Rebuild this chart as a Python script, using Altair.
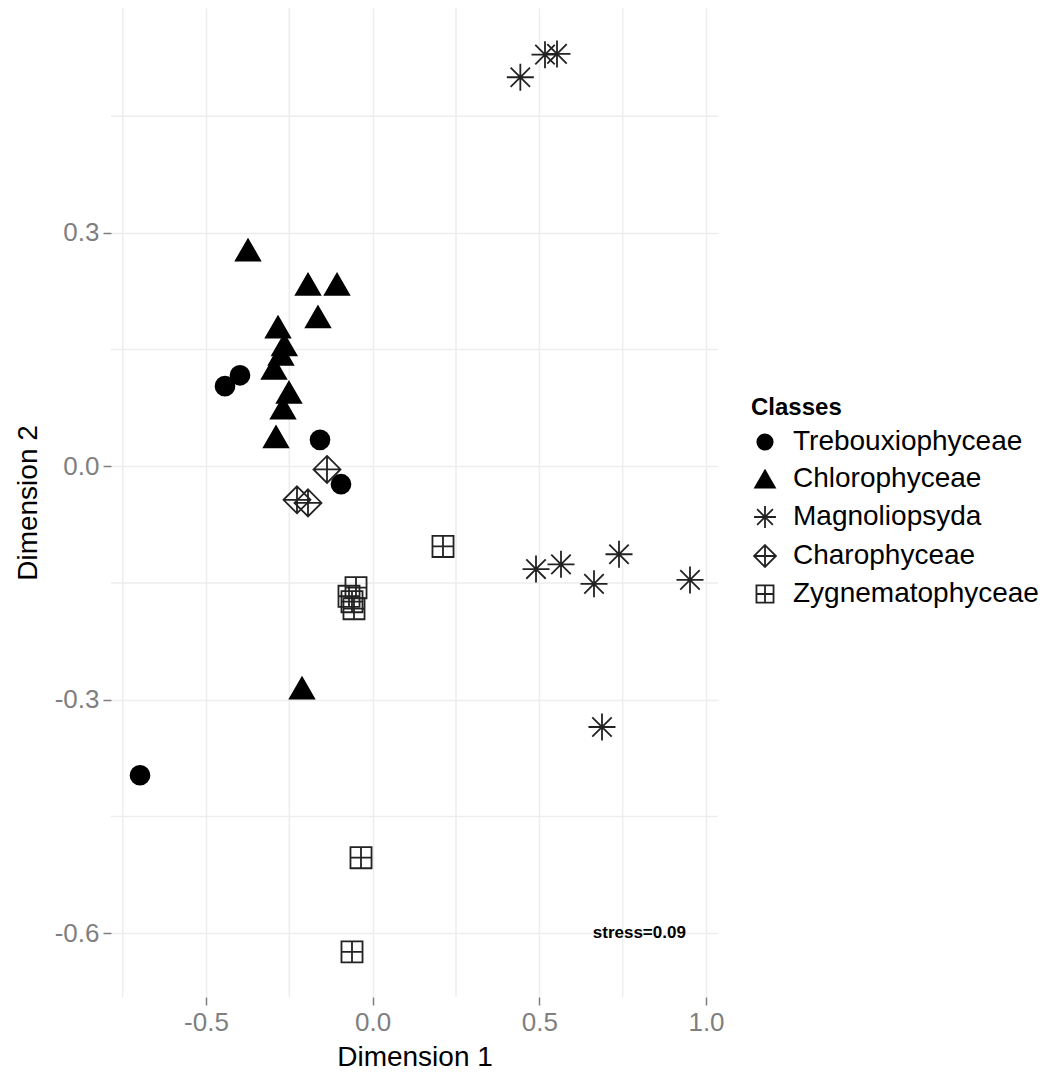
import altair as alt
import pandas as pd

classes = ["Trebouxiophyceae", "Chlorophyceae", "Magnoliopsyda", "Charophyceae", "Zygnematophyceae"]

treb_x = [-0.698, -0.443, -0.398, -0.158, -0.095]
treb_y = [-0.397, 0.103, 0.117, 0.034, -0.023]

chlo_x = [-0.374, -0.194, -0.107, -0.164, -0.284, -0.265, -0.275, -0.296, -0.251, -0.269, -0.290, -0.212]
chlo_y = [0.278, 0.234, 0.234, 0.192, 0.179, 0.156, 0.144, 0.126, 0.095, 0.075, 0.038, -0.285]

magn_x = [0.443, 0.517, 0.553, 0.490, 0.565, 0.664, 0.739, 0.952, 0.688]
magn_y = [0.500, 0.529, 0.530, -0.132, -0.126, -0.151, -0.113, -0.146, -0.335]

char_x = [-0.137, -0.227, -0.194]
char_y = [-0.004, -0.043, -0.047]

zygn_x = [0.211, -0.050, -0.071, -0.062, -0.056, -0.035, -0.062]
zygn_y = [-0.103, -0.156, -0.167, -0.174, -0.183, -0.503, -0.624]

x_ticks = [-0.5, 0.0, 0.5, 1.0]
y_ticks = [-0.6, -0.3, 0.0, 0.3]
minor_x = [-0.75, -0.25, 0.25, 0.75]
minor_y = [0.45, 0.15, -0.15, -0.45]

stress_x = [0.8]
stress_y = [-0.6]
stress_label = ["stress=0.09"]

rows = []
for cls, xs, ys in zip(classes, [treb_x, chlo_x, magn_x, char_x, zygn_x],
                       [treb_y, chlo_y, magn_y, char_y, zygn_y]):
    for a, b in zip(xs, ys):
        rows.append({"Classes": cls, "x": a, "y": b})
df = pd.DataFrame(rows)

shapes = [
    "M0.7,0A0.7,0.7,0,1,1,-0.7,0A0.7,0.7,0,1,1,0.7,0Z",
    "M0,-0.78L0.9,0.78L-0.9,0.78Z",
    "M-1,0L1,0M0,-1L0,1M-0.72,-0.72L0.72,0.72M-0.72,0.72L0.72,-0.72",
    "M0,-1L1,0L0,1L-1,0ZM0,-1L0,1M-1,0L1,0",
    "M-0.78,-0.78L0.78,-0.78L0.78,0.78L-0.78,0.78ZM0,-0.78L0,0.78M-0.78,0L0.78,0",
]
fills = ["black", "black", "transparent", "transparent", "transparent"]
strokes = ["black", "black", "#222222", "#222222", "#222222"]

xscale = alt.Scale(domain=[-0.785, 1.036], nice=False, zero=False)
yscale = alt.Scale(domain=[-0.682, 0.589], nice=False, zero=False)

lab_expr = "datum.value < 0 ? '-' + format(-datum.value, '.1f') : format(datum.value, '.1f')"

xaxis = alt.Axis(values=x_ticks, labelExpr=lab_expr, title="Dimension 1")
yaxis = alt.Axis(values=y_ticks, labelExpr=lab_expr, title="Dimension 2")

legend = alt.Legend(
    title="Classes", orient="none", legendX=640, legendY=388,
    titleFontSize=24, titleFontWeight="bold", titleColor="black",
    labelFontSize=28, labelColor="black", labelLimit=0, symbolSize=480,
    symbolStrokeWidth=1.8,
    rowPadding=9, labelOffset=14, padding=0, titlePadding=8,
)

points = alt.Chart(df).mark_point(opacity=1, size=729, strokeWidth=1.8).encode(
    x=alt.X("x:Q", scale=xscale, axis=xaxis),
    y=alt.Y("y:Q", scale=yscale, axis=yaxis),
    shape=alt.Shape("Classes:N", scale=alt.Scale(domain=classes, range=shapes), legend=legend),
    fill=alt.Fill("Classes:N", scale=alt.Scale(domain=classes, range=fills), legend=legend),
    stroke=alt.Stroke("Classes:N", scale=alt.Scale(domain=classes, range=strokes), legend=legend),
)

vgrid = alt.Chart(pd.DataFrame({"x": minor_x})).mark_rule(color="#EDEDED", strokeWidth=1.5).encode(
    x=alt.X("x:Q", scale=xscale, axis=xaxis)
)
hgrid = alt.Chart(pd.DataFrame({"y": minor_y})).mark_rule(color="#EDEDED", strokeWidth=1.5).encode(
    y=alt.Y("y:Q", scale=yscale, axis=yaxis)
)

stress = alt.Chart(pd.DataFrame({"x": stress_x, "y": stress_y, "t": stress_label})).mark_text(
    font="Liberation Sans", fontWeight="bold", fontSize=17, color="black", align="center", baseline="middle"
).encode(
    x=alt.X("x:Q", scale=xscale, axis=xaxis),
    y=alt.Y("y:Q", scale=yscale, axis=yaxis),
    text="t:N",
)

chart = alt.layer(vgrid, hgrid, points, stress).properties(
    width=607, height=989,
    autosize=alt.AutoSizeParams(type="none"),
    padding={"left": 103, "top": 0, "right": 320, "bottom": 85},
).configure(
    font="Liberation Sans",
).configure_view(
    stroke=None, fill="white",
).configure_axis(
    domain=False, grid=True, gridColor="#EDEDED", gridWidth=1.5,
    tickColor="#7f7f7f", tickSize=8, tickWidth=1.5,
    labelColor="#7f7f7f", labelFontSize=26, labelPadding=4,
    titleColor="black", titleFontSize=28, titleFontWeight="normal",
)
chart = chart.configure_axisX(titlePadding=8).configure_axisY(titlePadding=12)

chart.save("out.html", embed_options={"renderer": "svg", "actions": False})
